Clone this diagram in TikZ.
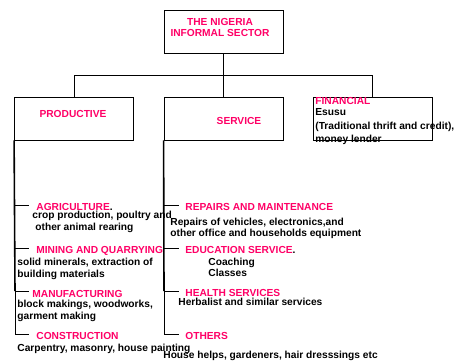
\documentclass[tikz,border=0pt]{standalone}
\usepackage{fontspec}
\setmainfont{Liberation Sans}
\usetikzlibrary{positioning}
\definecolor{pinkhead}{RGB}{255,0,102}
\tikzset{
  box/.style={draw, line width=.8pt, minimum width=119bp, minimum height=43bp, inner sep=0pt},
  txt/.style={anchor=west, inner sep=0pt, text height=7bp, text depth=2bp,
    font=\bfseries\fontsize{10.2bp}{11bp}\selectfont},
  hd/.style={txt, text=pinkhead},
}
\begin{document}
\begin{tikzpicture}[x=1bp, y=-1bp, line width=.8pt]
\useasboundingbox (0,0) rectangle (460,362);
% boxes
\node[box] (top) at (223.5,31.5) {};
\node[box] (prod) at (74,118.5) {};
\node[box] (serv) at (223.5,118.5) {};
\node[box] (fin) at (372.5,118.5) {};
\node[hd, anchor=center] (title1) at (220,23) {THE NIGERIA};
\node[hd, anchor=center] (title2) at (220,34) {INFORMAL SECTOR};
\node[hd, anchor=center] (prodtxt) at (73,115) {PRODUCTIVE};
\node[hd, anchor=center] (servtxt) at (239,122) {SERVICE};
\node[hd] (fintxt) at (315,102) {FINANCIAL};
\node[txt] (fin1) at (315,113) {Esusu};
\node[txt] (fin2) at (315,126.5) {(Traditional thrift and credit),};
\node[txt] (fin3) at (315,139.5) {money lender};
% connectors
\draw[line width=1.5pt] (top.south) -- (top.south |- 0,75);
\draw (prod.north) |- (fin.north |- 0,75) -- (fin.north);
\draw (serv.north) -- (serv.north |- 0,75);
\foreach \n/\y in {1/205,2/248,3/291,4/334}{
  \coordinate (pl\n) at (15,\y);
  \coordinate (pe\n) at (29,\y);
  \coordinate (sl\n) at (164,\y);
  \coordinate (se\n) at (179,\y);
  \draw (pl\n) -- (pe\n);
  \draw (sl\n) -- (se\n);
}
\draw[line width=1.6pt] (prod.south west) -- (pl3);
\draw (pl3) -- (pl4);
\draw[line width=1.6pt] (serv.south west) -- (sl3);
\draw (sl3) -- (sl4);
% productive
\node[hd] (agri) at (36,208.3) {AGRICULTURE\textcolor{black}{.}};
\node[txt] (agri1) at (32,216.2) {crop production, poultry and};
\node[txt] (agri2) at (35,227.5) {other animal rearing};
\node[hd] (mine) at (36,251.3) {MINING AND QUARRYING};
\node[txt] (mine1) at (17,262.5) {solid minerals, extraction of};
\node[txt] (mine2) at (17,274.7) {building materials};
\node[hd] (manu) at (32,295.3) {MANUFACTURING};
\node[txt] (manu1) at (17,304.5) {block makings, woodworks,};
\node[txt] (manu2) at (17,316.5) {garment making};
\node[hd] (cons) at (36,337.3) {CONSTRUCTION};
\node[txt] (cons1) at (17,349.3) {Carpentry, masonry, house painting};
% service
\node[hd] (rep) at (185,208.3) {REPAIRS AND MAINTENANCE};
\node[txt] (rep1) at (170,222.7) {Repairs of vehicles, electronics,and};
\node[txt] (rep2) at (170,234.3) {other office and households equipment};
\node[hd] (edu) at (185,251.3) {EDUCATION SERVICE\textcolor{black}{.}};
\node[txt] (edu1) at (208,262.7) {Coaching};
\node[txt] (edu2) at (208,274.3) {Classes};
\node[hd] (hea) at (185,294.3) {HEALTH SERVICES};
\node[txt] (hea1) at (178,302.8) {Herbalist and similar services};
\node[hd] (oth) at (185,337.3) {OTHERS};
\node[txt] (oth1) at (163,355.7) {House helps, gardeners, hair dresssings etc};
\end{tikzpicture}
\end{document}
